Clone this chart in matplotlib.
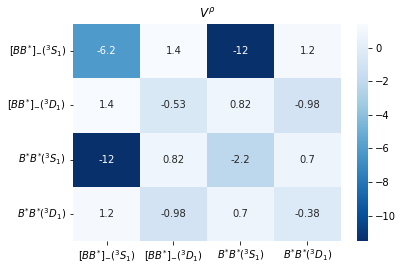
import matplotlib
matplotlib.use("Agg")
import matplotlib.pyplot as plt
import seaborn as sns
import numpy as np

labels = [r'$[BB^{*}]_{-}(^3S_1)$', r'$[BB^{*}]_{-}(^3D_1)$', r'$B^{*}B^{*}(^3S_1)$', r'$B^{*}B^{*}(^3D_1)$']
row0 = [-6.2, 1.4, -11.5, 1.2]
row1 = [1.4, -0.53, 0.82, -0.98]
row2 = [-11.5, 0.82, -2.2, 0.7]
row3 = [1.2, -0.98, 0.7, -0.38]
data = np.array([row0, row1, row2, row3])

W, H = 403, 271
fig = plt.figure(figsize=(W/72, H/72), dpi=72)
ax = fig.add_axes([73/W, 1-241/H, 268/W, 217/H])
cax = fig.add_axes([357/W, 1-241/H, 11/W, 217/H])
sns.heatmap(data, annot=True, fmt='.2g', cmap='Blues_r', ax=ax, cbar_ax=cax,
            xticklabels=labels, yticklabels=labels, annot_kws={'fontsize': 10})
ax.set_title(r'$V^{\rho}$', fontsize=12)
ax.tick_params(axis='y', rotation=0)
ax.tick_params(axis='x', rotation=0)
ax.tick_params(labelsize=10)
cax.tick_params(labelsize=10)
fig.savefig('out.png', dpi=72)
